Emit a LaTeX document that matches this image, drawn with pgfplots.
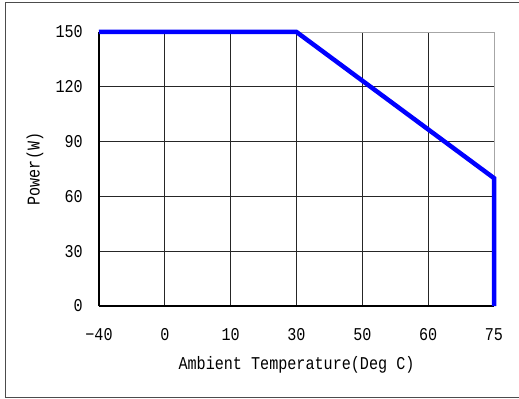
\documentclass[border=0pt]{standalone}
\usepackage{fontspec}
\setmainfont[FakeStretch=0.84]{Liberation Mono}
\usepackage{pgfplots}
\pgfplotsset{compat=1.18}
\newcommand{\lblfont}{\fontsize{18bp}{21bp}\selectfont}
\begin{document}
\lblfont
\begin{tikzpicture}
\begin{axis}[
  at={(0,0)}, anchor=south west,
  scale only axis, width=395bp, height=274bp,
  xmin=0, xmax=6, ymin=0, ymax=150,
  axis x line*=bottom, axis y line*=left,
  axis line style={-, black, line width=1.2bp},
  xtick={0,1,2,3,4,5},
  xticklabels={−40,0,10,30,50,60},
  extra x ticks={6}, extra x tick labels={75},
  extra x tick style={major grid style={gray!70, line width=0.9bp}},
  ytick={0,30,60,90,120},
  extra y ticks={150},
  extra y tick style={major grid style={gray!70, line width=0.9bp}},
  grid=major,
  major grid style={black!85, line width=0.9bp},
  major tick length=0pt,
  ticklabel style={inner sep=0pt, font=\lblfont},
  xticklabel style={anchor=north, yshift=-22bp},
  yticklabel style={anchor=east, xshift=-16bp},
  /pgf/number format/assume math mode=true,
  xlabel={Ambient Temperature(Deg C)},
  ylabel={Power(W)},
  label style={font=\lblfont},
  xlabel style={at={(axis description cs:0.5,0)}, anchor=center, yshift=-59bp},
  ylabel style={at={(axis description cs:0,0.5)}, anchor=center, yshift=64bp},
  clip=false,
]
\addplot[draw={rgb,255:red,0;green,0;blue,255}, line width=4.5bp, line join=miter] coordinates {
  (0,150) (3,150) (6,70) (6,0)
};
\end{axis}
\draw[black!70, line width=1bp] (420bp,303bp) -- (-93bp,303bp) -- (-93bp,-91bp) -- (420bp,-91bp);
\pgfresetboundingbox
\useasboundingbox (-99bp,-93bp) rectangle (420bp,306bp);
\end{tikzpicture}
\end{document}
